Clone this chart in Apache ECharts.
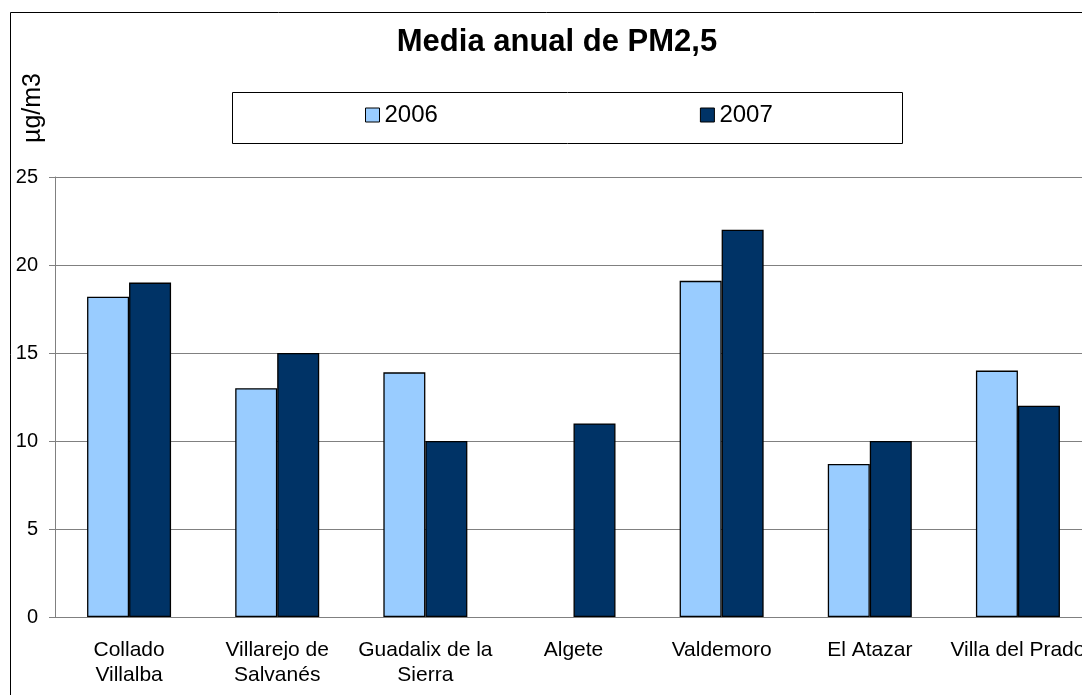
<!DOCTYPE html>
<html>
<head>
<meta charset="utf-8">
<script src="https://cdn.jsdelivr.net/npm/echarts@6/dist/echarts.min.js"></script>
<style>
  html, body { margin: 0; padding: 0; background: #fff; }
  #chart { width: 1082px; height: 695px; }
</style>
</head>
<body>
<div id="chart"></div>
<script>
  var stations = [
    'Collado\nVillalba',
    'Villarejo de\nSalvanés',
    'Guadalix de la\nSierra',
    'Algete',
    'Valdemoro',
    'El Atazar',
    'Villa del Prado'
  ];
  var pm2006 = [18.2, 13, 13.9, null, 19.1, 8.7, 14];
  var pm2007 = [19, 15, 10, 11, 22, 10, 12];
  var yTicks = [0, 5, 10, 15, 20, 25];

  var font = "'Liberation Sans', Arial, sans-serif";
  var barBorder = { borderColor: '#000', borderWidth: 1 };

  var chart = echarts.init(document.getElementById('chart'));

  chart.setOption({
    animation: false,
    backgroundColor: '#fff',
    textStyle: { fontFamily: font, color: '#000' },
    title: {
      text: 'Media anual de PM2,5',
      left: 557,
      top: 27,
      padding: 0,
      textAlign: 'center',
      textStyle: { fontFamily: font, fontSize: 31, fontWeight: 'bold', color: '#000' }
    },
    legend: {
      left: 365,
      top: 103,
      padding: 0,
      itemWidth: 14,
      itemHeight: 14,
      itemGap: 262,
      icon: 'rect',
      itemStyle: barBorder,
      textStyle: { fontFamily: font, fontSize: 24, color: '#000' },
      data: ['2006', '2007']
    },
    grid: { left: 55, top: 177, width: 1037, height: 440, outerBoundsMode: 'none' },
    xAxis: {
      type: 'category',
      data: stations,
      axisLine: { lineStyle: { color: '#808080' } },
      axisTick: { length: 6, lineStyle: { color: '#808080' } },
      axisLabel: {
        interval: 0,
        margin: 21,
        fontFamily: font,
        fontSize: 21,
        lineHeight: 25,
        color: '#000'
      }
    },
    yAxis: {
      type: 'value',
      min: yTicks[0],
      max: yTicks[yTicks.length - 1],
      interval: 5,
      axisLine: { show: true, lineStyle: { color: '#808080' } },
      axisTick: { show: true, length: 6, lineStyle: { color: '#808080' } },
      axisLabel: { margin: 17, fontFamily: font, fontSize: 20, color: '#000' },
      splitLine: { lineStyle: { color: '#808080', width: 1 } }
    },
    graphic: [
      {
        type: 'rect',
        z: -10,
        shape: { x: 10.5, y: 12.5, width: 1200, height: 800 },
        style: { fill: 'none', stroke: '#000', lineWidth: 1 }
      },
      {
        type: 'rect',
        z: -5,
        shape: { x: 232.5, y: 92.5, width: 670, height: 51 },
        style: { fill: '#fff', stroke: '#000', lineWidth: 1 }
      },
      {
        type: 'text',
        x: 33,
        y: 108,
        rotation: Math.PI / 2,
        style: {
          text: 'µg/m3',
          fontFamily: font,
          fontSize: 25,
          fill: '#000',
          textAlign: 'center',
          textVerticalAlign: 'middle'
        }
      }
    ],
    series: [
      {
        name: '2006',
        type: 'bar',
        data: pm2006,
        barWidth: 42,
        barGap: '0%',
        itemStyle: { color: '#99CCFF', borderColor: '#000', borderWidth: 1.3 }
      },
      {
        name: '2007',
        type: 'bar',
        data: pm2007,
        barWidth: 42,
        barGap: '0%',
        itemStyle: { color: '#003366', borderColor: '#000', borderWidth: 1.3 }
      }
    ]
  });
</script>
</body>
</html>
